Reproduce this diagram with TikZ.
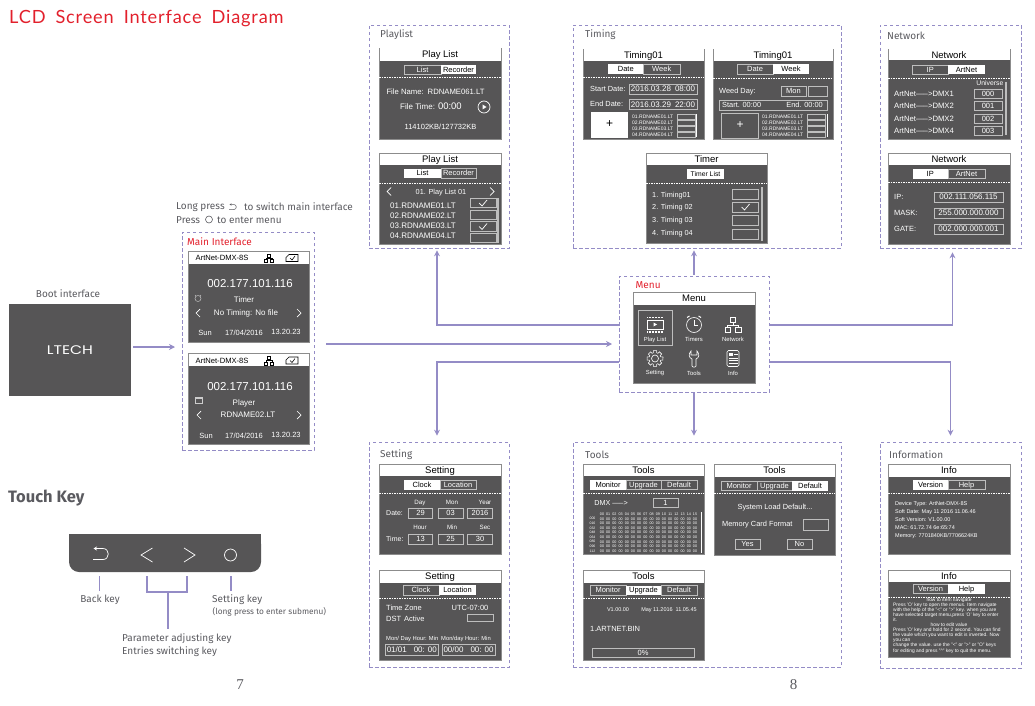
\documentclass[tikz,border=0pt]{standalone}
\usepackage{fontspec}
\setmainfont{Liberation Sans}
\newfontfamily\labelfont{Fira Sans}
\newfontfamily\titlefont[LetterSpace=4.6,WordSpace=1.8]{Lato}
\newfontfamily\logofont[FakeStretch=1.25]{Poppins}
\usetikzlibrary{calc,fit,arrows.meta,positioning}
\definecolor{lcddark}{RGB}{86,85,86}
\definecolor{lcdgray}{RGB}{190,190,190}
\definecolor{flowpurple}{RGB}{148,140,198}
\definecolor{panelred}{RGB}{226,32,44}
\definecolor{labelgray}{RGB}{90,90,95}
\newcommand{\fsz}[1]{\fontsize{#1}{#1}\selectfont}
\newcounter{lbl}
\tikzset{
    panelbox/.style={draw=flowpurple, dash pattern=on 3.5pt off 2.5pt, line width=0.7pt, inner sep=0pt},
    flowline/.style={draw=flowpurple, line width=1.1pt, -{Stealth[length=6pt,width=6pt]}},
    keyline/.style={draw=flowpurple, line width=1.1pt},
    lcdtext/.style={inner sep=0pt, font=\fsz{7.5}},
    paneltext/.style={inner sep=0pt, anchor=west, text=labelgray, font=\labelfont\fsz{10}},
    redtext/.style={inner sep=0pt, anchor=west, text=panelred, font=\labelfont\fsz{10}},
    notetext/.style={inner sep=0pt, anchor=west, text=labelgray, font=\labelfont\fsz{10}},
    cellon/.style={fill=white, text=black},
    cellbox/.style={draw=lcdgray, line width=0.7pt},
    iconline/.style={draw=white, line width=0.6pt},
    darkicon/.style={draw=black, line width=0.6pt},
}
% screen body, white title bar and title
\newcommand{\lcdbase}[5]{
    \fill[lcddark] (#1,#2) rectangle (#3,#4);
    \draw[black!45, line width=0.5pt] (#1,#2) rectangle (#3,#4);
    \fill[white] (#1+0.5,#2+0.5) rectangle (#3-0.5,#5);
}
\newcommand{\lcdtxt}[5][]{\stepcounter{lbl}%
    \node[lcdtext, text=white, font=\fsz{#2}, text height=\dimexpr #2pt*72/100\relax, text depth=0pt, #1] (lbl\arabic{lbl}) at (#3,#4) {#5};}
\newcommand{\lcdcell}[6][cellbox]{\stepcounter{lbl}%
    \path[text=white, #1] (#2,#3) rectangle (#4,#5) node[lcdtext, midway, text height=5.4pt, text depth=0pt] (lbl\arabic{lbl}) {#6};}
\newcommand{\lcdscreen}[7]{
    \lcdbase{#1}{#2}{#3}{#4}{#5}
    \stepcounter{lbl}
    \node[lcdtext, font=\fsz{9.5}, text height=6.8pt, text depth=0pt] (lbl\arabic{lbl}) at ($(#1,#2)!0.5!(#3,#5)$) {#6};
    \draw[white, line width=0.5pt, dash pattern=on 1.5pt off 1pt] (#1,#7) -- (#3,#7);
}
\newcommand{\lcdcheck}[2]{\draw[iconline, line width=0.7pt] (#1-4,#2) -- (#1-1,#2+3) -- (#1+4,#2-3);}
\newcommand{\chevl}[2]{\draw[iconline, line width=0.7pt] (#1+2,#2-4) -- (#1-2,#2) -- (#1+2,#2+4);}
\newcommand{\chevr}[2]{\draw[iconline, line width=0.7pt] (#1-2,#2-4) -- (#1+2,#2) -- (#1-2,#2+4);}
% little list used by the two timing screens
\newcommand{\timinglist}[4]{
    \foreach \n/\ytxt in {1/116.5,2/122.5,3/128.5,4/134.5} {
        \lcdtxt[anchor=west]{5}{#1}{\ytxt}{0\n.RDNAME0\n.LT}
        \draw[cellbox, line width=0.5pt] (#2,\ytxt-2.5) rectangle (#3,\ytxt+2.5);
    }
    \draw[white, line width=0.8pt] (#4,114) -- (#4,137);
}
% network symbol of the status bar and of the menu
\newcommand{\neticon}[4]{
    \begin{scope}[shift={(#1,#2)}]
        \draw[#3] (-1.5*#4,-4*#4) rectangle (1.5*#4,-1*#4);
        \draw[#3] (-4.6*#4,1.5*#4) rectangle (-1.6*#4,4.5*#4);
        \draw[#3] (1.6*#4,1.5*#4) rectangle (4.6*#4,4.5*#4);
        \draw[#3] (0,-1*#4) -- (0,0) (-3.1*#4,1.5*#4) -- (-3.1*#4,0) -- (3.1*#4,0) -- (3.1*#4,1.5*#4);
    \end{scope}
}
\newcommand{\sdicon}[2]{
    \draw[darkicon] (#1-6,#2+3.5) -- (#1-6,#2-0.5) -- (#1-3,#2-3.5) -- (#1+6,#2-3.5) -- (#1+6,#2+3.5) -- cycle;
    \draw[darkicon] (#1-2,#2) -- (#1,#2+2) -- (#1+3,#2-2);
}
\begin{document}
\begin{tikzpicture}[x=1pt,y=-1pt]
\useasboundingbox (0,0) rectangle (1035,706);

% Heading
\node[inner sep=0pt, anchor=west, text=panelred, font=\titlefont\fsz{18.2}] (heading) at (9,18.5) {LCD Screen Interface Diagram};

% Boot interface
\node[inner sep=0pt, text=labelgray, font=\labelfont\fsz{10}] (bootlabel) at (68,294) {Boot interface};
\node[fill=lcddark, minimum width=122pt, minimum height=92pt, inner sep=0pt, text=white, font=\logofont\fsz{12.5}] (boot) at (70,350) {LTECH};

% Main interface
\node[notetext] (longpress) at (176,207) {Long press};
\node[notetext] (longpressend) at (244,207) {to switch main interface};
\draw[labelgray, line width=0.5pt, -{Stealth[length=2pt,width=2pt]}] (229,209.5) -- (234,209.5) .. controls (237,209.5) and (237,204.5) .. (234,204.5) -- (229.5,204.5);
\node[notetext] (press) at (176,220) {Press};
\draw[labelgray, line width=0.6pt] (209,219.5) circle (3.5pt);
\node[notetext] (pressend) at (217,220) {to enter menu};
\node[panelbox, fit={(182,232)(314,450)}] (mainpanel) {};
\node[redtext] (maintitle) at (187,242) {Main Interface};

\lcdbase{188}{251}{309}{342}{264}
\lcdtxt[anchor=west, text=black]{7.6}{195.5}{258}{ArtNet-DMX-8S}
\neticon{269}{258}{darkicon}{1}
\sdicon{292}{258}
\lcdtxt{11.5}{250}{283.5}{002.177.101.116}
\draw[iconline, black!25, line width=0.5pt] (198,298.5) circle (3pt) (196,295) -- (195,296) (200,295) -- (201,296);
\lcdtxt{8}{244}{299.5}{Timer}
\chevl{198}{313}
\lcdtxt{8}{246}{313}{No Timing: No file}
\chevr{299}{313}
\lcdtxt{7.5}{205}{332.5}{Sun}
\lcdtxt{7.5}{244}{332.5}{17/04/2016}
\lcdtxt{7.5}{286}{332}{13.20.23}

\lcdbase{188}{353}{309}{444}{366}
\lcdtxt[anchor=west, text=black]{7.6}{195.5}{361}{ArtNet-DMX-8S}
\neticon{269}{360.5}{darkicon}{1}
\sdicon{292}{360.5}
\lcdtxt{11.5}{250}{386}{002.177.101.116}
\fill[black!20] (195,397) rectangle (203,404);
\fill[lcddark] (196,399) rectangle (202,403);
\lcdtxt{8}{244}{402.5}{Player}
\chevl{199}{415}
\lcdtxt{8}{248}{415}{RDNAME02.LT}
\chevr{299}{415}
\lcdtxt{7.5}{206}{435.5}{Sun}
\lcdtxt{7.5}{244}{435.5}{17/04/2016}
\lcdtxt{7.5}{286}{435}{13.20.23}

% Menu
\node[panelbox, fit={(619,276)(769,392)}] (menupanel) {};
\node[redtext] (menutitle) at (635.5,285) {Menu};
\lcdbase{633}{292}{755}{383}{305}
\node[lcdtext, font=\fsz{9.5}, text=black] (menuhead) at (694,298.5) {Menu};
\draw[lcdgray, line width=0.8pt] (638,310) rectangle (672,345);
% play list symbol
\draw[iconline] (647,320) rectangle (663,329);
\draw[white, line width=1.4pt, dash pattern=on 0.8pt off 0.7pt] (647,317.5) -- (663,317.5) (647,332) -- (663,332);
\fill[white] (653.5,322.5) -- (657,324.5) -- (653.5,326.5) -- cycle;
% clock symbol
\draw[iconline] (694,325) circle (7.5pt);
\draw[iconline] (694,320) -- (694,325) -- (698,325);
\draw[iconline, line width=1pt] (687,317.5) -- (689.5,316) (701,317.5) -- (698.5,316);
% network symbol
\draw[iconline] (730.5,317) rectangle (735.5,322.5);
\draw[iconline] (725,327.5) rectangle (730.5,332.5);
\draw[iconline] (735.5,327.5) rectangle (741,332.5);
\draw[iconline] (733,322.5) -- (733,325) (727.75,327.5) -- (727.75,325) -- (738.25,325) -- (738.25,327.5);
% gear symbol
\draw[iconline] (655,358.5) circle (3.5pt);
\draw[iconline] (663,357) \foreach \a in {22.5,67.5,...,337.5} { -- ($(655,358.5)+(\a-11:8pt)$) -- ($(655,358.5)+(\a-7:6pt)$) -- ($(655,358.5)+(\a+7:6pt)$) -- ($(655,358.5)+(\a+11:8pt)$)} -- cycle;
% wrench symbol
\draw[iconline] (691,351) .. controls (688,354) and (689,358) .. (692,359) -- (692,366) .. controls (692,367.5) and (696,367.5) .. (696,366) -- (696,359) .. controls (699,358) and (700,354) .. (697,351) -- (697,355) -- (691,355) -- cycle;
% info symbol
\draw[iconline, rounded corners=1.5pt] (727,350.5) rectangle (739,366.5);
\fill[white] (729,353) rectangle (733,356);
\draw[iconline, line width=0.5pt] (734,354) -- (737.5,354) (729,358) -- (737.5,358) (729,360.5) -- (737.5,360.5) (729,363) -- (737.5,363);
\foreach \xp/\yp/\txt in {655/339.5/Play List,694/339.5/Timers,733/339.5/Network,655/372.5/Setting,694/373/Tools,733/373/Info} {
    \lcdtxt{5.9}{\xp}{\yp}{\txt}
}

% Panel: Playlist
\node[panelbox, fit={(369,25)(509,248)}] (playlist) {};
\node[paneltext] (playlisttitle) at (380,35) {Playlist};
\lcdscreen{379}{48}{501}{139}{61}{Play List}{77.5}
\lcdcell{404}{65}{441}{74.5}{List}
\lcdcell[cellon]{441}{65}{476}{74.5}{Recorder}
\lcdtxt{7.7}{435.5}{92}{File Name:\hspace{4pt}RDNAME061.LT}
\lcdtxt{8}{431}{107}{File Time: \fsz{9.5}00:00}
\draw[iconline, line width=0.7pt] (484,107) circle (6pt);
\fill[white] (482.5,104.5) -- (486.5,107) -- (482.5,109.5) -- cycle;
\lcdtxt{7.5}{440.5}{127}{114102KB/127732KB}

\lcdscreen{379}{153}{501}{244}{165}{Play List}{183}
\lcdcell[cellon]{404}{168.5}{441}{178}{List}
\lcdcell{441}{168.5}{476}{178}{Recorder}
\chevl{389}{191.5}
\lcdtxt{7.3}{441}{191.5}{01. Play List 01}
\chevr{492}{191.5}
\foreach \n/\yrow/\ybox in {1/205.5/198,2/215.5/210,3/225.5/221.5,4/236/233} {
    \lcdtxt[anchor=west]{8}{390}{\yrow}{0\n.RDNAME0\n.LT}
    \draw[cellbox] (470,\ybox) rectangle (496,\ybox+9.5);
}
\lcdcheck{483}{203}
\lcdcheck{483}{226.5}
\draw[lcdgray, line width=1.2pt] (498,198) -- (498,243);

% Panel: Timing
\node[panelbox, fit={(573,25)(841,248)}] (timing) {};
\node[paneltext] (timingtitle) at (585,35) {Timing};
\lcdscreen{583}{49}{704}{139}{61}{Timing01}{77.5}
\lcdcell[cellon]{608}{64.5}{643.5}{74}{Date}
\lcdcell{643.5}{64.5}{680}{74}{Week}
\lcdtxt[anchor=west]{7.4}{590}{89}{Start Date:}
\lcdcell{629}{84}{697}{94.5}{\fsz{8}2016.03.28\hspace{4pt}08:00}
\lcdtxt[anchor=west]{7.4}{590}{104}{End Date:}
\lcdcell{629}{99.5}{697}{109.5}{\fsz{8}2016.03.29\hspace{4pt}22:00}
\lcdcell[cellon]{591}{112}{628}{138}{\fsz{12}+}
\timinglist{632}{677}{695}{696.5}

\lcdscreen{713}{49}{833}{139}{61}{Timing01}{78}
\lcdcell{737}{64.5}{773}{74}{Date}
\lcdcell[cellon]{773}{64.5}{809}{74}{Week}
\lcdtxt[anchor=west]{7.4}{719}{91}{Weed Day:}
\lcdcell{781}{86}{806}{96}{Mon}
\draw[cellbox] (808,86) rectangle (827,96);
\draw[cellbox] (719,100.5) rectangle (827,110);
\lcdtxt[anchor=west]{7.4}{722}{105}{Start. 00:00}
\lcdtxt[anchor=east]{7.4}{823}{105}{End. 00:00}
\lcdcell{721.5}{113.5}{758.5}{138}{\fsz{12}+}
\timinglist{762}{807.5}{825}{827}

\lcdscreen{646}{153}{767}{243}{165}{Timer}{183}
\lcdcell[cellon]{687}{169}{724}{179}{\fsz{6.8}Timer List}
\foreach \n/\txt/\yrow/\ybox in {1/1. Timing01/195/189,2/2. Timing 02/207/202,3/3. Timing 03/220/215.5,4/4. Timing 04/233/229} {
    \lcdtxt[anchor=west]{7.3}{652}{\yrow}{\txt}
    \draw[cellbox] (732.5,\ybox) rectangle (758,\ybox+10);
}
\lcdcheck{745.5}{207}
\draw[lcdgray, line width=1.2pt] (762,187) -- (762,241);

% Panel: Network
\node[panelbox, fit={(880,25)(1021,248)}] (network) {};
\node[paneltext] (networktitle) at (887,36) {Network};
\lcdscreen{888}{49}{1010}{139}{60.5}{Network}{78}
\lcdcell{912.5}{65}{948}{74}{IP}
\lcdcell[cellon]{948}{65}{985}{74}{ArtNet}
\lcdtxt[anchor=east]{6.8}{1003.5}{83}{Universe}
\foreach \xtxt/\val/\yrow/\ybox in {DMX1/000/94/89,DMX2/001/106/101,DMX2/002/119/114,DMX4/003/131/126} {
    \lcdtxt[anchor=west]{7.7}{894}{\yrow}{ArtNet----->\xtxt}
    \lcdcell{974}{\ybox}{1002}{\ybox+9.5}{\val}
}
\draw[lcdgray, line width=1.2pt] (1006,82) -- (1006,135);

\lcdscreen{888}{153}{1010}{244}{165}{Network}{182.5}
\lcdcell[cellon]{912.5}{169}{948}{178.5}{IP}
\lcdcell{948}{169}{985}{178.5}{ArtNet}
\foreach \txt/\val/\yrow in {IP:/002.111.056.115/197,MASK:/255.000.000.000/213,GATE:/002.000.000.001/229} {
    \lcdtxt[anchor=west]{7.5}{894}{\yrow}{\txt}
    \lcdcell{934}{\yrow-5}{1003}{\yrow+5}{\fsz{8}\val}
}

% Panel: Setting
\node[panelbox, fit={(369,442)(509,667)}] (setting) {};
\node[paneltext] (settingtitle) at (380,454.5) {Setting};
\lcdscreen{379}{464}{501}{554}{476}{Setting}{493}
\lcdcell[cellon]{404}{480}{440}{489.5}{Clock}
\lcdcell{440}{480}{476}{489.5}{Location}
\foreach \xp/\txt in {420/Day,452/Mon,485/Year} {\lcdtxt{6.2}{\xp}{502}{\txt}}
\foreach \xp/\txt in {420/Hour,452/Min,485/Sec} {\lcdtxt{6.2}{\xp}{527}{\txt}}
\lcdtxt[anchor=west]{7}{386}{513}{Date:}
\lcdtxt[anchor=west]{7}{386}{539}{Time:}
\foreach \xa/\xb/\val in {408.5/432.5/29,438/463/03,467.5/492.5/2016} {\lcdcell{\xa}{508}{\xb}{518.5}{\val}}
\foreach \xa/\xb/\val in {408.5/432.5/13,438/463/25,467.5/492.5/30} {\lcdcell{\xa}{534}{\xb}{544.5}{\val}}

\lcdscreen{379}{570}{501}{660}{583}{Setting}{598}
\lcdcell{403}{585}{439}{595}{Clock}
\lcdcell[cellon]{439}{585}{476}{595}{Location}
\lcdtxt[anchor=west]{7.5}{386}{607.5}{Time Zone}
\lcdtxt{7.5}{470}{607.5}{UTC-07:00}
\lcdtxt[anchor=west]{7.5}{386}{618.5}{DST\hspace{3pt}Active}
\draw[cellbox] (467,614.5) rectangle (493,621.5);
\lcdtxt[anchor=west]{5.8}{386}{638}{Mon/ Day Hour: Min}
\lcdtxt[anchor=west]{5.8}{441}{638}{Mon/day Hour: Min}
\lcdcell{385.5}{644}{438}{655}{\fsz{8}01/01\hspace{7pt}00: 00}
\lcdcell{442}{644}{495}{655}{\fsz{8}00/00\hspace{7pt}00: 00}

% Panel: Tools
\node[panelbox, fit={(573,442)(841,667)}] (tools) {};
\node[paneltext] (toolstitle) at (585,455) {Tools};
\lcdscreen{583}{464}{704}{554}{476}{Tools}{493}
\lcdcell[cellon]{590}{480}{626}{489.5}{Monitor}
\lcdcell{626}{480}{661}{489.5}{Upgrade}
\lcdcell{661}{480}{697}{489.5}{Default}
\lcdtxt{7.2}{611}{502.5}{DMX ----->}
\lcdcell{653}{498}{678}{507.5}{1}
\foreach \txt [count=\c from 0] in {00,01,02,03,04,05,06,07,08,09,10,11,12,13,14,15} {
    \lcdtxt{3.7}{602+\c*6.2}{514}{\txt}
}
\foreach \txt [count=\r from 0] in {000,016,032,048,064,080,096,112} {
    \lcdtxt{3.5}{592.5}{518.7+\r*4.6}{\txt}
    \foreach \c in {0,...,15} {
        \lcdtxt{3.7}{602+\c*6.2}{518.7+\r*4.6}{00}
    }
}
\draw[white, line width=0.8pt] (701,512) -- (701,553);

\lcdscreen{714}{464}{835}{555}{477}{Tools}{493.5}
\lcdcell{721}{481}{757}{490.5}{Monitor}
\lcdcell{757}{481}{792}{490.5}{Upgrade}
\lcdcell[cellon]{792}{481}{828}{490.5}{Default}
\lcdtxt{7.4}{775}{507}{System Load Default...}
\lcdtxt[anchor=west]{7.4}{722}{524}{Memory Card Format}
\draw[cellbox] (803,519.5) rectangle (828,530);
\lcdcell{735}{539}{760}{549.5}{Yes}
\lcdcell{787}{539}{812}{549.5}{No}

\lcdscreen{583}{570}{704}{660}{583}{Tools}{598}
\lcdcell{590}{585.5}{626}{595}{Monitor}
\lcdcell[cellon]{626}{585.5}{661}{595}{Upgrade}
\lcdcell{661}{585.5}{697}{595}{Default}
\lcdtxt{5.5}{618}{610}{V1.00.00}
\lcdtxt{5.5}{669}{610}{May 11.2016\hspace{3pt}11.05.45}
\lcdtxt[anchor=west]{7.5}{590}{629}{1.ARTNET.BIN}
\lcdcell{592}{648}{694}{657.5}{0\%}

% Panel: Information
\node[panelbox, fit={(880,442)(1021,668)}] (information) {};
\node[paneltext] (informationtitle) at (889,455) {Information};
\lcdscreen{888}{464}{1010}{554}{476.5}{Info}{493}
\lcdcell[cellon]{913}{480}{948}{489.5}{Version}
\lcdcell{948}{480}{985}{489.5}{Help}
\foreach \txt/\yrow in {Device Type: ArtNet-DMX-8S/503.5,Soft Date: May 11 2016 11.06.46/511.5,Soft Version: V1.00.00/519.5,MAC: 61.72.74 6e:65:74/527.5,{Memory: 7701840KB/7706624KB}/535.5} {
    \lcdtxt[anchor=west]{5.5}{895}{\yrow}{\txt}
}

\lcdscreen{888}{570}{1010}{657}{581.5}{Info}{597}
\lcdcell{913}{584}{948}{593.5}{Version}
\lcdcell[cellon]{948}{584}{985}{593.5}{Help}
\lcdtxt{4.9}{949}{599.5}{how to item navigate}
\lcdtxt[anchor=west]{4.9}{893}{604.5}{Press 'O' key to open the menus. Item navigate}
\lcdtxt[anchor=west]{4.9}{893}{609.5}{with the help of the "<" or ">" key. when you are}
\lcdtxt[anchor=west]{4.9}{893}{614.5}{have selected target menu,press 'O' key to enter}
\lcdtxt[anchor=west]{4.9}{893}{619.5}{it.}
\lcdtxt{4.9}{949}{624.5}{how to edit value}
\lcdtxt[anchor=west]{4.9}{893}{629.5}{Press 'O' key and hold for 2 second. You can find}
\lcdtxt[anchor=west]{4.9}{893}{634.5}{the vaule which you want to edit is inverted. Now}
\lcdtxt[anchor=west]{4.9}{893}{639.5}{you can}
\lcdtxt[anchor=west]{4.9}{893}{644.5}{change the value. use the "<" or ">" or "O" keys}
\lcdtxt[anchor=west]{4.9}{893}{650.5}{for editing and press "\^{}" key to quit the menu.}

% Connectors
\coordinate (mainin) at (175,347);
\coordinate (mainout) at (326,344);
\coordinate (menuin) at (612,344);
\draw[flowline] ([xshift=2pt,yshift=3pt]boot.east) -- (mainin);
\draw[flowline] (mainout) -- (menuin);
\draw[flowline, shorten >=2pt] ([yshift=9pt]menupanel.west) -| ([xshift=-2pt]playlist.south);
\draw[flowline, shorten >=2pt] ([yshift=1pt]menupanel.north) -- (timing.south -| menupanel.north);
\draw[flowline, shorten >=4pt] ([yshift=9pt]menupanel.east) -| ([xshift=2pt]network.south);
\draw[flowline, shorten >=6pt] ([yshift=-28pt]menupanel.west) -| ([xshift=-2pt]setting.north);
\draw[flowline, shorten >=6pt] ([yshift=-1pt]menupanel.south) -- (tools.north -| menupanel.south);
\draw[flowline, shorten >=6pt] ([yshift=-28pt]menupanel.east) -| (information.north);

% Touch key
\node[inner sep=0pt, anchor=west, text=labelgray, font=\labelfont\bfseries\fsz{16.5}] (touchtitle) at (8,498) {Touch Key};
\fill[lcddark, rounded corners=10pt] (69,534) rectangle (261,572);
\fill[lcddark] (69,534) rectangle (261,552);
\draw[white, line width=0.7pt, -{Stealth[length=3.5pt,width=4pt]}] (93,559.5) -- (103,559.5) .. controls (110,559.5) and (110,548.5) .. (103,548.5) -- (93.5,548.5);
\draw[white, line width=0.7pt] (152.5,548) -- (141,555) -- (152.5,562);
\draw[white, line width=0.7pt] (184,548) -- (195,555) -- (184,562);
\draw[white, line width=0.7pt] (230.5,555) circle (6pt);
\coordinate (backkey) at (99.5,576);
\coordinate (leftkey) at (147,576);
\coordinate (rightkey) at (187,576);
\coordinate (setkey) at (231,576);
\node[inner sep=0pt, text=labelgray, font=\labelfont\fsz{10}] (backlabel) at (100,600) {Back key};
\node[notetext] (setlabel) at (212,600) {Setting key};
\node[inner sep=0pt, anchor=west, text=labelgray, font=\labelfont\fsz{8.3}] (setnote) at (212.5,612) {(long press to enter submenu)};
\node[notetext] (paramlabel) at (122,639) {Parameter adjusting key};
\node[notetext] (entrylabel) at (122,652) {Entries switching key};
\coordinate (bracketfoot) at (168,628.5);
\draw[keyline] (backkey) -- ++(0,15);
\draw[keyline] (setkey) -- ++(0,15);
\draw[keyline] (leftkey) |- (rightkey |- 0,592) -- (rightkey);
\draw[keyline] (bracketfoot |- 0,592) -- (bracketfoot);

% Page numbers
\node[inner sep=0pt, text=labelgray, font=\fontspec{Liberation Serif}\fsz{15}] (pageseven) at (240,684.5) {7};
\node[inner sep=0pt, text=labelgray, font=\fontspec{Liberation Serif}\fsz{15}] (pageeight) at (793.5,684.5) {8};

\end{tikzpicture}
\end{document}
